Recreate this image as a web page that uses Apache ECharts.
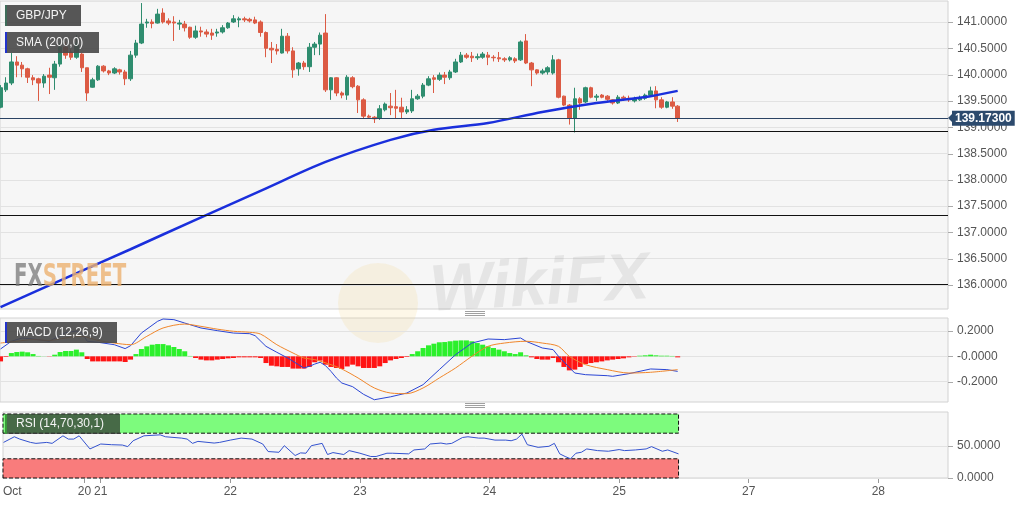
<!DOCTYPE html>
<html>
<head>
<meta charset="utf-8">
<script src="https://cdn.jsdelivr.net/npm/echarts@6/dist/echarts.min.js"></script>
<style>
  html, body { margin: 0; padding: 0; background: #fff; }
  #chart { width: 1032px; height: 505px; }
</style>
</head>
<body>
<div id="chart"></div>
<script>
// hourly candles, index = hour from the left edge
const opens = [139.38, 139.71, 139.84, 140.24, 140.18, 140.11, 139.94, 139.92, 139.84, 139.99,
  139.94, 140.20, 140.52, 140.43, 140.33, 140.39, 140.13, 139.76, 139.90, 140.16,
  140.07, 140.03, 140.09, 140.05, 139.92, 140.37, 140.60, 140.98, 141.00, 140.98,
  141.17, 141.02, 141.00, 140.96, 140.96, 140.90, 140.71, 140.83, 140.81, 140.79,
  140.79, 140.81, 140.89, 141.00, 141.04, 141.06, 141.05, 141.04, 141.00, 140.80,
  140.50, 140.48, 140.41, 140.73, 140.45, 140.11, 140.22, 140.15, 140.52, 140.58,
  140.79, 139.71, 139.94, 139.65, 139.61, 139.94, 139.78, 139.52, 139.21, 139.19,
  139.17, 139.33, 139.40, 139.39, 139.38, 139.29, 139.31, 139.54, 139.59, 139.80,
  139.94, 139.91, 139.99, 139.94, 140.05, 140.24, 140.37, 140.35, 140.32, 140.33,
  140.37, 140.33, 140.32, 140.30, 140.28, 140.30, 140.28, 140.64, 140.22, 140.09,
  140.03, 140.05, 140.03, 140.28, 139.59, 139.42, 139.17, 139.54, 139.48, 139.75,
  139.57, 139.61, 139.59, 139.52, 139.46, 139.57, 139.55, 139.50, 139.52, 139.55,
  139.61, 139.69, 139.52, 139.38, 139.48, 139.40];
const closes = [139.75, 139.84, 140.24, 140.18, 140.11, 139.95, 139.90, 139.84, 139.97, 139.95,
  140.20, 140.52, 140.37, 140.33, 140.60, 140.13, 139.65, 139.90, 140.16, 140.07,
  140.03, 140.11, 140.05, 139.92, 140.37, 140.60, 140.96, 141.00, 140.97, 141.15,
  141.00, 140.98, 140.98, 140.98, 140.89, 140.71, 140.83, 140.81, 140.77, 140.75,
  140.81, 140.89, 140.98, 141.06, 141.06, 141.04, 141.02, 140.98, 140.80, 140.50,
  140.47, 140.45, 140.73, 140.45, 140.09, 140.22, 140.15, 140.52, 140.58, 140.75,
  139.71, 139.94, 139.65, 139.61, 139.95, 139.77, 139.52, 139.21, 139.19, 139.16,
  139.35, 139.44, 139.37, 139.36, 139.29, 139.33, 139.54, 139.59, 139.80, 139.92,
  139.91, 139.99, 139.95, 140.05, 140.24, 140.37, 140.33, 140.32, 140.34, 140.39,
  140.33, 140.32, 140.30, 140.28, 140.32, 140.26, 140.62, 140.22, 140.09, 140.03,
  140.07, 140.13, 140.28, 139.57, 139.42, 139.17, 139.54, 139.46, 139.75, 139.57,
  139.59, 139.57, 139.53, 139.46, 139.57, 139.55, 139.52, 139.54, 139.55, 139.61,
  139.69, 139.52, 139.38, 139.48, 139.40, 139.17];
const lows = [139.36, 139.67, 139.80, 139.95, 139.95, 139.84, 139.80, 139.50, 139.75, 139.63,
  139.71, 140.15, 140.30, 140.28, 140.30, 140.05, 139.50, 139.75, 139.88, 140.04,
  139.99, 140.01, 140.00, 139.80, 139.88, 140.32, 140.58, 140.89, 140.88, 140.97,
  140.97, 140.94, 140.64, 140.85, 140.82, 140.68, 140.68, 140.72, 140.71, 140.66,
  140.72, 140.78, 140.87, 140.98, 140.90, 141.00, 140.99, 140.96, 140.72, 140.33,
  140.22, 140.38, 140.40, 140.40, 139.94, 139.98, 140.09, 140.05, 140.37, 140.37,
  139.67, 139.52, 139.59, 139.55, 139.52, 139.74, 139.27, 139.16, 139.16, 139.08,
  139.14, 139.30, 139.23, 139.17, 139.16, 139.25, 139.27, 139.52, 139.55, 139.78,
  139.65, 139.88, 139.82, 139.90, 140.03, 140.22, 140.30, 140.24, 140.28, 140.30,
  140.18, 140.25, 140.24, 140.24, 140.25, 140.22, 140.26, 140.20, 139.78, 140.00,
  140.00, 140.00, 140.00, 139.55, 139.40, 139.05, 138.90, 139.33, 139.46, 139.55,
  139.50, 139.55, 139.50, 139.43, 139.44, 139.50, 139.48, 139.47, 139.50, 139.52,
  139.59, 139.36, 139.35, 139.36, 139.35, 139.10];
const highs = [139.80, 139.95, 140.41, 140.35, 140.24, 140.13, 139.99, 139.94, 140.01, 140.13,
  140.26, 140.60, 140.62, 140.48, 140.75, 140.41, 140.13, 139.94, 140.18, 140.18,
  140.09, 140.14, 140.11, 140.09, 140.45, 140.66, 141.36, 141.06, 141.05, 141.25,
  141.26, 141.07, 141.11, 141.04, 141.02, 140.91, 140.93, 140.91, 140.86, 140.87,
  140.87, 140.94, 141.00, 141.13, 141.10, 141.10, 141.08, 141.10, 141.03, 140.82,
  140.62, 140.58, 140.87, 140.79, 140.52, 140.24, 140.26, 140.60, 140.62, 140.80,
  141.15, 139.95, 139.95, 139.68, 139.99, 139.97, 139.80, 139.55, 139.24, 139.21,
  139.42, 139.47, 139.65, 139.71, 139.56, 139.40, 139.71, 139.63, 139.84, 139.97,
  139.99, 140.04, 140.05, 140.09, 140.30, 140.43, 140.41, 140.43, 140.40, 140.43,
  140.43, 140.37, 140.43, 140.33, 140.35, 140.33, 140.65, 140.77, 140.24, 140.10,
  140.11, 140.16, 140.37, 140.30, 139.60, 139.44, 139.75, 139.57, 139.77, 139.77,
  139.63, 139.63, 139.61, 139.53, 139.61, 139.60, 139.60, 139.58, 139.60, 139.64,
  139.77, 139.78, 139.57, 139.50, 139.57, 139.42];

const smaHours = [0, 12, 24, 36, 48, 60, 72, 80, 90, 100, 110, 120, 125];
const smaValues = [135.58, 136.13, 136.68, 137.24, 137.79, 138.34, 138.76, 138.95, 139.08, 139.29, 139.46, 139.59, 139.69];

const levels = [138.92, 137.33, 136.01];
const lastPrice = 139.173;

const macdHist = [-0.040, -0.005, 0.026, 0.034, 0.037, 0.032, 0.018, 0.003, 0.001, -0.002,
  0.013, 0.034, 0.042, 0.042, 0.053, 0.032, -0.021, -0.040, -0.040, -0.040,
  -0.040, -0.040, -0.040, -0.045, -0.026, 0.018, 0.058, 0.079, 0.092, 0.097,
  0.097, 0.087, 0.074, 0.058, 0.040, 0.003, -0.013, -0.026, -0.032, -0.032,
  -0.026, -0.021, -0.016, -0.013, -0.008, -0.008, -0.008, -0.008, -0.013, -0.053,
  -0.074, -0.079, -0.084, -0.084, -0.097, -0.097, -0.097, -0.084, -0.047, -0.034,
  -0.066, -0.084, -0.092, -0.100, -0.080, -0.066, -0.079, -0.092, -0.092, -0.092,
  -0.079, -0.053, -0.032, -0.021, -0.013, -0.005, 0.018, 0.040, 0.066, 0.087,
  0.100, 0.111, 0.113, 0.119, 0.124, 0.126, 0.126, 0.119, 0.105, 0.092,
  0.079, 0.066, 0.053, 0.040, 0.026, 0.018, 0.032, 0.008, -0.008, -0.021,
  -0.026, -0.026, -0.013, -0.047, -0.084, -0.111, -0.105, -0.084, -0.061, -0.053,
  -0.047, -0.040, -0.032, -0.026, -0.021, -0.016, -0.008, -0.003, 0.005, 0.008,
  0.013, 0.008, 0.005, 0.005, 0.003, -0.008];

const macdHours = [0, 2, 4, 6, 9, 12, 14, 15, 16, 18, 21, 23, 24, 26, 29, 30, 32, 34, 35, 37,
  40, 43, 46, 47, 49, 51, 53, 55, 56, 57, 58, 59, 60, 61, 62, 63, 65, 67, 69, 72,
  75, 78, 81, 84, 87, 90, 93, 96, 97, 100, 102, 103, 106, 108, 112, 113, 116, 120, 123, 125];
const macdLine = [0.058, 0.119, 0.145, 0.137, 0.119, 0.187, 0.200, 0.190, 0.119, 0.111, 0.092, 0.061, 0.084, 0.184, 0.277, 0.295, 0.290, 0.263, 0.250, 0.224,
  0.203, 0.184, 0.179, 0.163, 0.079, 0.032, -0.013, -0.066, -0.092, -0.079, -0.061, -0.047, -0.074, -0.119, -0.171, -0.211, -0.240, -0.300, -0.343, -0.320,
  -0.290, -0.224, -0.105, 0.013, 0.105, 0.137, 0.132, 0.145, 0.119, 0.066, 0.053, 0.000, -0.132, -0.145, -0.153, -0.158, -0.137, -0.100, -0.105, -0.119];

const signalHours = [0, 3, 6, 9, 12, 15, 18, 21, 24, 27, 30, 34, 37, 40, 43, 46, 48, 51, 54, 56,
  58, 61, 63, 66, 69, 72, 75, 78, 81, 84, 87, 90, 93, 97, 100, 103, 105, 108, 112, 116, 120, 125];
const signalLine = [0.105, 0.119, 0.132, 0.126, 0.145, 0.158, 0.126, 0.105, 0.092, 0.158, 0.224, 0.255, 0.237, 0.215, 0.198, 0.190, 0.176, 0.092, 0.026, -0.013,
  -0.026, -0.066, -0.100, -0.171, -0.250, -0.290, -0.295, -0.250, -0.171, -0.092, 0.000, 0.079, 0.105, 0.119, 0.105, 0.079, 0.000, -0.066, -0.105, -0.132, -0.126, -0.105];

const rsiHours = [0, 2, 3, 5, 6, 8, 9, 11, 12, 13, 14, 16, 18, 20, 22, 23, 24, 26, 29, 30,
  33, 34, 35, 36, 39, 40, 42, 44, 46, 48, 49, 51, 52, 54, 55, 56, 57, 59, 60, 61,
  63, 64, 66, 68, 69, 71, 72, 75, 76, 78, 79, 81, 82, 83, 85, 86, 88, 89, 91, 93,
  94, 95, 96, 97, 99, 101, 102, 103, 104, 105, 106, 107, 108, 110, 112, 114, 115, 117, 119, 120,
  122, 123, 125];
const rsiValues = [55.6, 64.4, 60.8, 55.6, 54.1, 55.6, 54.1, 65.9, 60.8, 60.8, 65.9, 45.4, 53.1, 52.0, 51.5, 49.0, 58.2, 65.9, 67.4, 64.4,
  62.3, 60.8, 54.1, 57.2, 54.6, 55.6, 59.2, 62.3, 60.8, 53.1, 41.3, 40.2, 50.5, 35.1, 39.2, 38.7, 50.5, 54.1, 36.7, 39.7,
  36.7, 42.8, 38.7, 33.6, 33.6, 38.7, 38.7, 37.7, 43.8, 45.4, 53.1, 54.6, 53.1, 54.1, 63.3, 64.4, 62.3, 62.3, 59.2, 59.2,
  58.2, 60.8, 68.5, 52.0, 47.9, 49.5, 54.1, 37.7, 33.6, 30.0, 38.7, 40.2, 45.4, 42.8, 41.8, 44.4, 42.8, 43.8, 45.4, 49.0,
  41.8, 43.8, 37.7];

const priceTicks = [136, 136.5, 137, 137.5, 138, 138.5, 139, 139.5, 140, 140.5, 141];
const macdTicks = [-0.2, 0, 0.2];
const rsiTicks = [0, 50];
const dayTicks = [-0.1, 15, 18, 42, 66, 90, 114, 138, 162];
const dayLabels = ['Oct', '20', '21', '22', '23', '24', '25', '27', '28'];

const FONT = '"Liberation Sans", Arial, sans-serif';
const UP = '#2f8d6f';
const DOWN = '#dc5b44';
const PANE_RIGHT = 948;

const chart = echarts.init(document.getElementById('chart'));

const xBase = { type: 'value', min: -0.1, max: 174.9, splitLine: { show: false } };
const gridBase = { left: 0, width: PANE_RIGHT, show: true, backgroundColor: '#f6f6f6', borderColor: '#d2d2d2', borderWidth: 1 };

function yAxisFor(gridIndex, min, max, ticks, fmt) {
  return {
    type: 'value', position: 'right', gridIndex: gridIndex, min: min, max: max,
    axisLine: { show: false },
    splitLine: { show: false },
    axisTick: { show: false },
    axisLabel: { customValues: ticks, formatter: fmt, color: '#555', fontSize: 12, fontFamily: FONT, margin: 9 }
  };
}

// light horizontal grid lines, drawn under the marks
function gridLines(ticks) {
  return {
    silent: true, symbol: 'none', animation: false, z: 1,
    label: { show: false },
    lineStyle: { color: '#e2e2e2', width: 1, type: 'solid' },
    data: ticks.map((v) => ({ yAxis: v }))
  };
}

function tag(x, y, w, h, text, stripe, bg) {
  return [
    { type: 'rect', z: 100, shape: { x: x, y: y, width: w, height: h }, style: { fill: bg } },
    { type: 'rect', z: 101, shape: { x: x, y: y, width: 2, height: h }, style: { fill: stripe } },
    { type: 'text', z: 101, x: x + 11, y: y + h / 2,
      style: { text: text, fill: '#f4f4f4', font: '12px ' + FONT, verticalAlign: 'middle' } }
  ];
}

function handle(y) {
  return [0, 2, 4].map((d) => ({
    type: 'line', z: 50,
    shape: { x1: 465, y1: y + d + 0.5, x2: 485, y2: y + d + 0.5 },
    style: { stroke: '#888', lineWidth: 0.8 }
  }));
}

const graphics = [].concat(
  // watermarks
  [
    { type: 'circle', z: 0, shape: { cx: 378, cy: 303, r: 40 }, style: { fill: 'rgba(246,214,140,0.2)' } },
    { type: 'text', z: 90, x: 428, y: 260, rotation: 0.06,
      style: { text: 'WikiFX', fill: 'rgba(130,130,130,0.14)', font: 'bold italic 66px ' + FONT } },
    { type: 'text', z: 90, x: 14, y: 262, scaleY: 1.45,
      style: {
        text: '{a|FX}{b|STREET}',
        rich: {
          a: { fill: 'rgba(120,120,120,0.75)', font: 'bold 22px "DejaVu Sans Condensed", ' + FONT },
          b: { fill: 'rgba(236,178,112,0.8)', font: 'bold 22px "DejaVu Sans Condensed", ' + FONT }
        }
      } }
  ],
  tag(5, 5, 76, 21, 'GBP/JPY', '#3d6b58', 'rgba(72,72,72,0.92)'),
  tag(5, 32, 94, 21, 'SMA (200,0)', '#2233cc', 'rgba(72,72,72,0.9)'),
  tag(5, 322, 112, 21, 'MACD (12,26,9)', '#2233cc', 'rgba(72,72,72,0.9)'),
  tag(5, 414, 115, 20, 'RSI (14,70,30,1)', '#3a9a3a', 'rgba(50,50,50,0.72)'),
  handle(311),
  handle(403)
);

const option = {
  animation: false,
  backgroundColor: '#fff',
  textStyle: { fontFamily: FONT },
  grid: [
    Object.assign({}, gridBase, { top: 1, height: 308 }),
    Object.assign({}, gridBase, { top: 318, height: 84 }),
    Object.assign({}, gridBase, { top: 412, height: 66 })
  ],
  xAxis: [
    Object.assign({}, xBase, { gridIndex: 0, show: false }),
    Object.assign({}, xBase, { gridIndex: 1, show: false }),
    Object.assign({}, xBase, {
      gridIndex: 2,
      axisLine: { show: true, lineStyle: { color: '#c8c8c8' } },
      axisTick: { show: true, customValues: dayTicks.slice(1), length: 5, lineStyle: { color: '#999' } },
      axisLabel: {
        customValues: dayTicks,
        color: '#555', fontSize: 12, fontFamily: FONT, margin: 8,
        alignMinLabel: 'left',
        formatter: (v) => {
          let best = 0;
          dayTicks.forEach((t, i) => { if (Math.abs(t - v) < Math.abs(dayTicks[best] - v)) best = i; });
          return dayLabels[best];
        }
      }
    })
  ],
  yAxis: [
    yAxisFor(0, 135.544, 141.399, priceTicks, (v) => v.toFixed(4)),
    yAxisFor(1, -0.361, 0.303, macdTicks, (v) => (Math.abs(v) < 1e-9 ? '-0.0000' : v.toFixed(4))),
    yAxisFor(2, 0, 103.1, rsiTicks, (v) => v.toFixed(4))
  ],
  series: [
    {
      type: 'candlestick',
      xAxisIndex: 0, yAxisIndex: 0,
      z: 3,
      barWidth: 4,
      encode: { x: 0, y: [1, 2, 3, 4] },
      data: opens.map((o, i) => [i, o, closes[i], lows[i], highs[i]]),
      itemStyle: { color: UP, color0: DOWN, borderColor: UP, borderColor0: DOWN, borderWidth: 1 },
      markLine: gridLines(priceTicks)
    },
    {
      type: 'line',
      xAxisIndex: 0, yAxisIndex: 0,
      z: 4,
      data: smaHours.map((h, i) => [h, smaValues[i]]),
      smooth: 0.3,
      showSymbol: false,
      lineStyle: { color: '#1a2fdc', width: 2.5 },
      markLine: {
        silent: true,
        symbol: 'none',
        animation: false,
        data: levels.map((v) => ({
          yAxis: v,
          lineStyle: { color: '#111', width: 1, type: 'solid' },
          label: { show: false }
        })).concat([{
          yAxis: lastPrice,
          lineStyle: { color: '#2a4263', width: 1, type: 'solid' },
          label: {
            show: true, position: 'end', distance: 4,
            formatter: lastPrice.toFixed(5),
            backgroundColor: '#2c4a6d', color: '#fff',
            fontWeight: 'bold', fontSize: 12, fontFamily: FONT,
            padding: [2, 3, 1, 3]
          }
        }])
      }
    },
    {
      type: 'bar',
      xAxisIndex: 1, yAxisIndex: 1,
      z: 3,
      barWidth: 5,
      data: macdHist.map((v, i) => [i, v]),
      itemStyle: { color: (p) => (p.value[1] >= 0 ? '#2cf02c' : '#ff1414') },
      markLine: gridLines(macdTicks)
    },
    {
      type: 'line',
      xAxisIndex: 1, yAxisIndex: 1,
      z: 4,
      data: macdHours.map((h, i) => [h, macdLine[i]]),
      showSymbol: false,
      lineStyle: { color: '#2a45d4', width: 1 }
    },
    {
      type: 'line',
      xAxisIndex: 1, yAxisIndex: 1,
      z: 4,
      data: signalHours.map((h, i) => [h, signalLine[i]]),
      smooth: 0.3,
      showSymbol: false,
      lineStyle: { color: '#f0862a', width: 1 }
    },
    {
      type: 'line',
      xAxisIndex: 2, yAxisIndex: 2,
      z: 4,
      data: rsiHours.map((h, i) => [h, rsiValues[i]]),
      showSymbol: false,
      lineStyle: { color: '#3352cf', width: 1 },
      markLine: gridLines(rsiTicks),
      markArea: {
        silent: true,
        z: 2,
        data: [
          [{ xAxis: -0.1, yAxis: 70, itemStyle: { color: '#7dfb7d', borderColor: '#111', borderWidth: 1, borderType: 'dashed' } },
           { xAxis: 125, yAxis: 100 }],
          [{ xAxis: -0.1, yAxis: 0, itemStyle: { color: '#f97c7c', borderColor: '#111', borderWidth: 1, borderType: 'dashed' } },
           { xAxis: 125, yAxis: 30 }]
        ]
      }
    }
  ],
  graphic: graphics
};

chart.setOption(option);

// right-hand tick marks, placed through each pane's y scale
const extra = [];
[[0, priceTicks], [1, macdTicks], [2, rsiTicks]].forEach(([axisIndex, ticks]) => {
  ticks.forEach((v) => {
    const y = Math.round(chart.convertToPixel({ yAxisIndex: axisIndex }, v)) + 0.5;
    extra.push({
      type: 'line', z: 60,
      shape: { x1: PANE_RIGHT, y1: y, x2: PANE_RIGHT + 5, y2: y },
      style: { stroke: '#aaa', lineWidth: 1 }
    });
  });
});

// little pointer on the left of the last price tag
const py = chart.convertToPixel({ yAxisIndex: 0 }, lastPrice);
extra.push({
  type: 'polygon', z: 120,
  shape: { points: [[PANE_RIGHT, py], [PANE_RIGHT + 5, py - 5], [PANE_RIGHT + 5, py + 5]] },
  style: { fill: '#2c4a6d' }
});

chart.setOption({ graphic: graphics.concat(extra) });
</script>
</body>
</html>
